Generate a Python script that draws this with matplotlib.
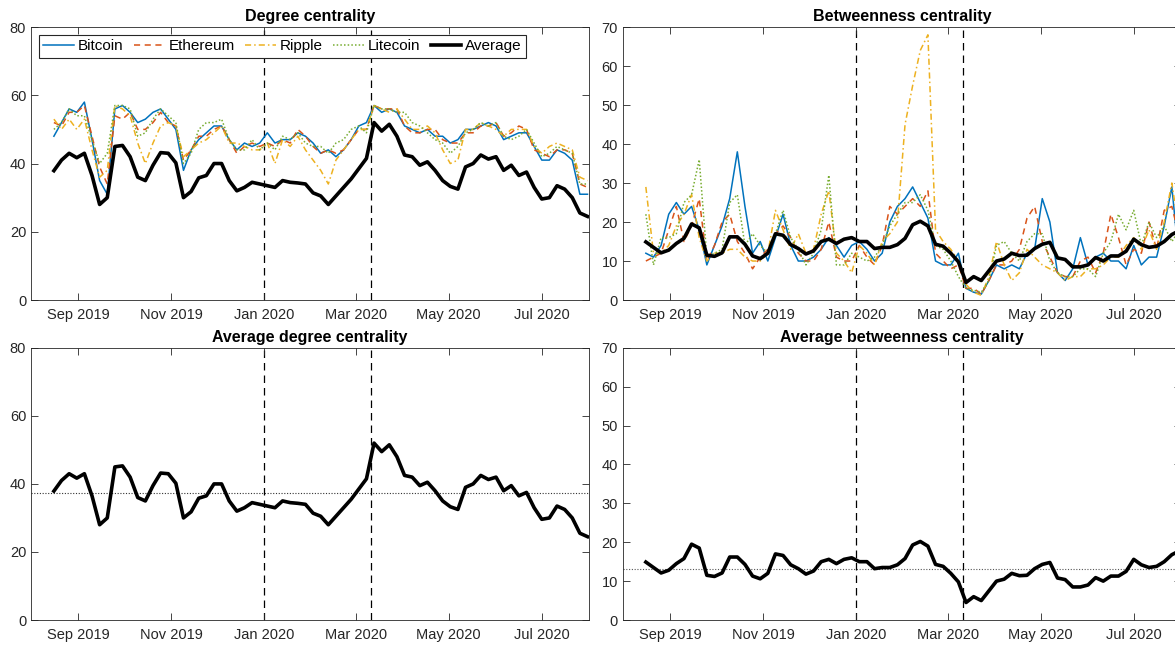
import matplotlib
matplotlib.use("Agg")
import matplotlib.pyplot as plt
import matplotlib.dates as mdates
import pandas as pd

plt.rcParams["font.family"] = ["Liberation Sans", "DejaVu Sans"]

dates = pd.date_range("2019-08-16", "2020-07-31", freq="5D")

# degree centrality
deg_btc = [48, 52, 56, 55, 58, 47, 35, 31, 56, 57, 55, 52, 53, 55, 56, 53, 50, 38, 44, 47,
           49, 51, 51, 47, 44, 46, 45, 46, 49, 46, 47, 47, 49, 48, 46, 43, 44, 42, 44, 47,
           51, 52, 57, 55, 56, 55, 51, 50, 49, 50, 48, 48, 46, 47, 50, 50, 51, 52, 51, 47,
           48, 49, 49, 45, 41, 41, 44, 43, 41, 31, 31]
deg_eth = [52, 51, 55, 55, 57, 48, 39, 34, 54, 53, 55, 50, 50, 52, 55, 52, 51, 41, 44, 48,
           48, 50, 51, 47, 43, 45, 46, 45, 46, 45, 47, 46, 50, 48, 45, 43, 44, 43, 44, 47,
           50, 50, 57, 56, 56, 56, 51, 49, 49, 50, 50, 47, 46, 46, 49, 49, 51, 51, 52, 48,
           49, 51, 50, 44, 43, 42, 44, 44, 43, 34, 33]
deg_xrp = [53, 50, 53, 50, 53, 44, 36, 38, 57, 56, 54, 46, 40, 46, 51, 52, 51, 42, 44, 46,
           47, 49, 51, 46, 46, 45, 44, 44, 46, 40, 47, 45, 48, 44, 41, 38, 34, 41, 44, 47,
           50, 50, 57, 56, 55, 56, 53, 50, 50, 51, 49, 44, 40, 41, 50, 50, 52, 51, 50, 48,
           50, 50, 50, 45, 43, 45, 46, 45, 44, 36, 35]
deg_ltc = [50, 52, 56, 54, 54, 47, 40, 43, 57, 57, 56, 48, 49, 53, 56, 54, 52, 40, 43, 50,
           52, 52, 53, 47, 44, 44, 47, 44, 46, 44, 48, 47, 49, 46, 45, 45, 43, 46, 47, 50,
           51, 49, 57, 56, 56, 55, 55, 52, 51, 49, 47, 46, 43, 45, 49, 50, 52, 51, 52, 48,
           47, 48, 50, 46, 42, 43, 45, 44, 43, 34, 34]
deg_avg = [37.9, 41, 43, 41.7, 43, 36.5, 28, 30, 45, 45.3, 42, 36, 35, 39.5, 43.2, 43, 40.2, 30, 31.8, 35.8,
           36.5, 40, 40, 35, 32, 33, 34.5, 34, 33.5, 33, 35, 34.5, 34.3, 34, 31.4, 30.5, 28, 30.5, 33, 35.5,
           38.5, 41.5, 52, 49.5, 51.5, 48, 42.5, 42, 39.5, 40.5, 38, 35, 33.3, 32.5, 39, 40, 42.5, 41.3, 42, 38,
           39.5, 36.5, 37.5, 33, 29.6, 30, 33.5, 32.5, 30, 25.5, 24.5]

# betweenness centrality
btw_btc = [12, 11, 14, 22, 25, 22, 24, 18, 9, 14, 19, 26, 38, 24, 12, 15, 10, 16, 22, 14,
           10, 10, 11, 13, 16, 14, 11, 14, 15, 13, 10, 12, 20, 24, 26, 29, 25, 21, 10, 9,
           9, 12, 3, 2, 1.5, 5, 9, 8, 9, 8, 12, 13, 26, 20, 7, 5, 8, 16, 9, 11,
           12, 10, 10, 8, 14, 9, 11, 11, 19, 29, 9]
btw_eth = [10, 11, 12, 18, 24, 15, 19, 26, 10, 14, 20, 22, 15, 12, 8, 11, 13, 17, 19, 16,
           12, 10, 10, 13, 20, 11, 10, 10, 14, 11, 9, 14, 24, 22, 24, 26, 24, 28, 12, 10,
           8, 9, 3, 3, 1.5, 5, 9, 9, 10, 13, 21, 24, 15, 11, 7, 6, 6, 10, 11, 7,
           12, 22, 16, 9, 13, 12, 20, 13, 23, 24, 16]
btw_xrp = [29, 12, 12, 14, 19, 22, 27, 16, 10, 12, 12, 13, 13, 11, 10, 10, 12, 23, 18, 13,
           17, 12, 13, 22, 28, 12, 10, 7, 14, 12, 9, 15, 17, 20, 45, 55, 64, 68, 18, 15,
           13, 10, 4, 2, 1.2, 6, 15, 9, 5, 7, 13, 11, 9, 8, 7, 5, 6, 6, 8, 8,
           9, 11, 11, 14, 16, 13, 18, 13, 20, 30, 17]
btw_ltc = [22, 9, 16, 16, 17, 25, 27, 36, 11, 12, 13, 25, 27, 14, 17, 14, 12, 17, 23, 16,
           13, 9, 12, 18, 32, 9, 9, 12, 11, 10, 11, 14, 19, 22, 25, 25, 27, 23, 14, 13,
           10, 6, 3, 2.5, 2, 5, 14, 15, 12, 10, 15, 17, 17, 10, 7, 6, 6, 8, 8, 6,
           12, 15, 22, 18, 23, 14, 20, 16, 19, 15, 18]
btw_avg = [14.9, 13.5, 12.1, 12.8, 14.5, 15.8, 19.5, 18.5, 11.5, 11.2, 12.1, 16.2, 16.2, 14.3, 11.3, 10.6, 12, 17, 16.6, 14.2,
           13.2, 11.8, 12.6, 15, 15.6, 14.5, 15.6, 16, 15, 15, 13.2, 13.5, 13.5, 14.2, 15.8, 19.3, 20.2, 19, 14.3, 13.8,
           12, 9.8, 4.5, 6, 5, 7.5, 10, 10.5, 12, 11.4, 11.5, 13.2, 14.3, 14.8, 10.8, 10.4, 8.5, 8.5, 9, 10.9,
           10, 11.3, 11.3, 12.5, 15.6, 14.2, 13.5, 13.8, 15, 16.8, 17.8]

# sample means of the averages (dotted reference lines)
deg_mean = 37.2
btw_mean = 13.2

coins = ["Bitcoin", "Ethereum", "Ripple", "Litecoin"]
event_dates = ["2020-01-01", "2020-03-11"]

colors = ["#0072BD", "#D95319", "#EDB120", "#77AC30"]
styles = ["-", (0, (4, 3)), (0, (4, 2, 1, 2)), (0, (1, 1.4))]
axcol = "#262626"


def style_axes(ax, ymax, ystep):
    ax.set_xlim(pd.Timestamp("2019-08-01"), pd.Timestamp("2020-08-01"))
    ax.set_ylim(0, ymax)
    ax.set_yticks(range(0, ymax + 1, ystep))
    ax.xaxis.set_major_locator(mdates.MonthLocator(bymonth=[1, 3, 5, 7, 9, 11]))
    ax.xaxis.set_major_formatter(mdates.DateFormatter("%b %Y"))
    ax.tick_params(direction="in", top=True, right=True, length=5, width=0.6,
                   colors=axcol, labelsize=10.5)
    ax.tick_params(axis="x", pad=6)
    ax.tick_params(axis="y", pad=3.5)
    for s in ax.spines.values():
        s.set_color(axcol)
        s.set_linewidth(0.6)
    for d in event_dates:
        ax.axvline(pd.Timestamp(d), color="k", ls=(0, (6, 4)), lw=0.9, zorder=1)


fig = plt.figure(figsize=(11.75, 6.48), dpi=100)
w, h = 0.4749, 0.4213
ax1 = fig.add_axes([0.0264, 0.537, w, h])
ax2 = fig.add_axes([0.5302, 0.537, w, h])
ax3 = fig.add_axes([0.0264, 0.0432, w, 0.42])
ax4 = fig.add_axes([0.5302, 0.0432, w, 0.42])

for series, c, ls, name in zip([deg_btc, deg_eth, deg_xrp, deg_ltc], colors, styles, coins):
    ax1.plot(dates, series, color=c, ls=ls, lw=1.1, label=name, zorder=2)
ax1.plot(dates, deg_avg, color="k", lw=2.6, label="Average", zorder=3)
style_axes(ax1, 80, 20)
ax1.set_title("Degree centrality", fontsize=11.5, fontweight="bold", pad=4)
leg = ax1.legend(loc="upper left", ncol=5, fontsize=11, frameon=True, fancybox=False,
                 handlelength=2.0, handletextpad=0.25, columnspacing=0.7,
                 borderpad=0.3, borderaxespad=0.5)
leg.get_frame().set_edgecolor(axcol)
leg.get_frame().set_linewidth(0.8)
leg.get_frame().set_alpha(1)

for series, c, ls in zip([btw_btc, btw_eth, btw_xrp, btw_ltc], colors, styles):
    ax2.plot(dates, series, color=c, ls=ls, lw=1.1, zorder=2)
ax2.plot(dates, btw_avg, color="k", lw=2.6, zorder=3)
style_axes(ax2, 70, 10)
ax2.set_title("Betweenness centrality", fontsize=11.5, fontweight="bold", pad=4)

ax3.plot(dates, deg_avg, color="k", lw=2.6, zorder=3)
ax3.axhline(deg_mean, color="#333333", ls=(0, (1, 1.5)), lw=0.8, zorder=1)
style_axes(ax3, 80, 20)
ax3.set_title("Average degree centrality", fontsize=11.5, fontweight="bold", pad=4)

ax4.plot(dates, btw_avg, color="k", lw=2.6, zorder=3)
ax4.axhline(btw_mean, color="#555555", ls=(0, (1, 1.5)), lw=0.8, zorder=1)
style_axes(ax4, 70, 10)
ax4.set_title("Average betweenness centrality", fontsize=11.5, fontweight="bold", pad=4)

fig.savefig("out.png", dpi=100)
